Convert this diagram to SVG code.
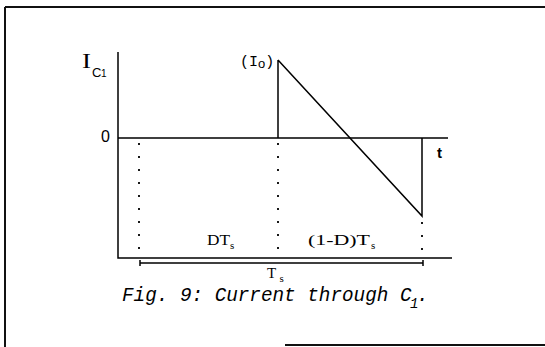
<svg xmlns="http://www.w3.org/2000/svg" width="545" height="347" viewBox="0 0 545 347">
<style>
.ln{stroke:#000;stroke-width:1.5;fill:none}
.frame{stroke:#111;stroke-width:2;fill:none}
.dot{stroke:#000;stroke-width:1.8;stroke-dasharray:2 11;fill:none}
.serif{font-family:"Liberation Serif","Times New Roman",serif;fill:#000}
.mono{font-family:"Liberation Mono","Courier New",monospace;fill:#000}
.sans{font-family:"Liberation Sans",Arial,sans-serif;fill:#000}
</style>
<rect width="545" height="347" fill="#fff"/>
<g id="frame">
<path class="frame" d="M5,7 H545 M5,7 V347 M285,345 H545"/>
</g>
<g id="axes">
<path class="ln" d="M118,52 V258 H452 M118,138 H448"/>
</g>
<g id="connectors">
<path class="ln" d="M278,60 V138 M278,60 L422,216 V138"/>
<path class="dot" d="M139,143 V257 M278,143 V257 M422,222 V257"/>
<path class="ln" d="M140,263 H423 M140,260 V266 M423,260 V266"/>
</g>
<g id="label-ic1">
<text class="serif" x="82" y="68" font-size="21" textLength="9" lengthAdjust="spacingAndGlyphs">I</text>
<text class="sans" x="92" y="77" font-size="13">C</text>
<text class="sans" x="101" y="77" font-size="10">1</text>
</g>
<g id="label-io">
<text class="mono" x="240" y="66" font-size="15">(I<tspan class="sans" font-size="13" dy="2">o</tspan><tspan dy="-2">)</tspan></text>
</g>
<g id="label-zero"><text class="sans" x="101" y="142" font-size="16">0</text></g>
<g id="label-t"><text class="sans" x="437" y="158" font-size="15" font-weight="bold">t</text></g>
<g id="label-dts">
<text class="serif" x="207" y="245" font-size="15" textLength="23" lengthAdjust="spacingAndGlyphs">DT</text>
<text class="serif" x="230" y="249" font-size="11">s</text>
</g>
<g id="label-1dts">
<text class="serif" x="308" y="245" font-size="15" textLength="62" lengthAdjust="spacingAndGlyphs">(1-D)T</text>
<text class="serif" x="371" y="249" font-size="11">s</text>
</g>
<g id="label-ts">
<text class="serif" x="267" y="278" font-size="15">T</text>
<text class="serif" x="279.5" y="282" font-size="11">s</text>
</g>
<g id="caption">
<text class="mono" x="122" y="301" font-size="19.3" font-style="italic" textLength="289.5" lengthAdjust="spacingAndGlyphs">Fig. 9: Current through C</text>
<text class="mono" x="410" y="308" font-size="14" font-style="italic">1</text>
<text class="mono" x="417" y="301" font-size="19.3" font-style="italic">.</text>
</g>
</svg>
